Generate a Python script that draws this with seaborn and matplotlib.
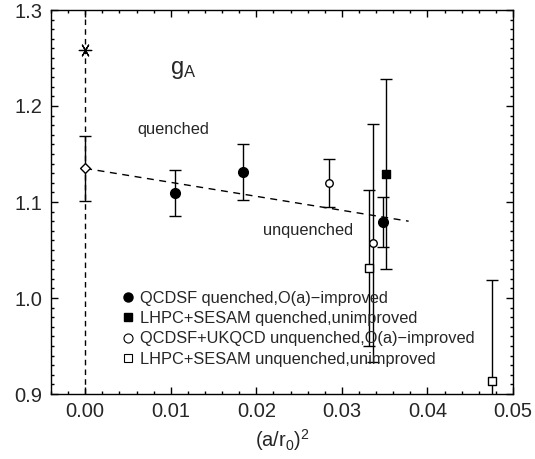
import numpy as np
import pandas as pd
import matplotlib
matplotlib.use("Agg")
import matplotlib.pyplot as plt
from matplotlib.ticker import MultipleLocator, FormatStrFormatter
from matplotlib.lines import Line2D
import seaborn as sns

# ---- data ----
qcdsf_q_x = [0.01054, 0.0185, 0.03481]
qcdsf_q_y = [1.109, 1.131, 1.079]
qcdsf_q_e = [0.024, 0.029, 0.026]

lhpc_q_x = [0.03516]
lhpc_q_y = [1.1295]
lhpc_q_e = [0.099]

qcdsf_u_x = [0.02853, 0.0336]
qcdsf_u_y = [1.120, 1.057]
qcdsf_u_e = [0.025, 0.124]

lhpc_u_x = [0.0332, 0.0476]
lhpc_u_y = [1.031, 0.914]
lhpc_u_e = [0.081, 0.105]

chiral_x = [0.0]
chiral_y = [1.135]
chiral_e = [0.034]

expt_x = [0.0]
expt_y = [1.258]

fit_x = [0.0, 0.0378]
fit_y = [1.135, 1.080]

labels = ["QCDSF quenched,O(a)\u2212improved",
          "LHPC+SESAM quenched,unimproved",
          "QCDSF+UKQCD unquenched,O(a)\u2212improved",
          "LHPC+SESAM unquenched,unimproved"]

sns.set_theme(style="ticks")
plt.rcParams['font.family'] = ['Liberation Sans', 'DejaVu Sans']
plt.rcParams['mathtext.fontset'] = 'custom'
plt.rcParams['mathtext.rm'] = 'Liberation Sans'
plt.rcParams['mathtext.it'] = 'Liberation Sans'

fig = plt.figure(figsize=(5.35, 4.59), dpi=100)
ax = fig.add_axes([51/535, 1-394/459, 462/535, 384/459])

series = [
    (qcdsf_q_x, qcdsf_q_y, qcdsf_q_e, 'o', 'black', 'black', 7.0),
    (lhpc_q_x, lhpc_q_y, lhpc_q_e, 's', 'black', 'black', 6.0),
    (qcdsf_u_x, qcdsf_u_y, qcdsf_u_e, 'o', 'white', 'black', 5.4),
    (lhpc_u_x, lhpc_u_y, lhpc_u_e, 's', 'white', 'black', 5.4),
    (chiral_x, chiral_y, chiral_e, 'D', 'white', 'black', 5.0),
]

# dashed vertical line at zero and fit line
ax.axvline(0.0, color='black', lw=1.0, ls=(0, (4, 3)), zorder=1)
sns.lineplot(x=fit_x, y=fit_y, ax=ax, color='black', lw=1.0, zorder=1)
ax.lines[-1].set_linestyle((0, (5, 4)))

for xs, ys, es, m, fc, ec, ms in series:
    ax.errorbar(xs, ys, yerr=es, fmt='none', ecolor='black', elinewidth=1.0,
                capsize=4, capthick=1.0, zorder=2)
    df = pd.DataFrame({'x': xs, 'y': ys})
    sns.scatterplot(data=df, x='x', y='y', ax=ax, marker=m, s=ms**2,
                    color=fc, edgecolor=ec, linewidth=1.0, zorder=3)

sns.scatterplot(x=expt_x, y=expt_y, ax=ax, marker=(6, 2, 30), s=80,
                color='black', linewidth=0.9, zorder=3)

ax.set_xlim(-0.004, 0.05)
ax.set_ylim(0.9, 1.3)
ax.xaxis.set_major_locator(MultipleLocator(0.01))
ax.xaxis.set_minor_locator(MultipleLocator(0.002))
ax.yaxis.set_major_locator(MultipleLocator(0.1))
ax.yaxis.set_minor_locator(MultipleLocator(0.01))
ax.xaxis.set_major_formatter(FormatStrFormatter('%.2f'))
ax.yaxis.set_major_formatter(FormatStrFormatter('%.1f'))
ax.tick_params(which='both', direction='in', top=True, right=True,
               labelsize=14.5, color='black', width=1.0)
ax.tick_params(which='major', length=5, pad=6)
ax.tick_params(which='minor', length=2.5)
for s in ax.spines.values():
    s.set_linewidth(1.0)
    s.set_color('black')

ax.set_xlabel(r'$\mathregular{(a/r_0)^2}$', fontsize=14.5, labelpad=4)
ax.set_ylabel('')

ax.text(0.0114, 1.238, r'$\mathregular{g_A}$', fontsize=17, ha='center', va='center')
ax.text(0.01034, 1.1757, 'quenched', fontsize=11.8, ha='center', va='center')
ax.text(0.0261, 1.0708, 'unquenched', fontsize=11.8, ha='center', va='center')

handles = [
    Line2D([], [], ls='none', marker='o', mfc='black', mec='black', ms=6.5),
    Line2D([], [], ls='none', marker='s', mfc='black', mec='black', ms=6.0),
    Line2D([], [], ls='none', marker='o', mfc='white', mec='black', ms=6.5, mew=0.8),
    Line2D([], [], ls='none', marker='s', mfc='white', mec='black', ms=6.0, mew=0.8),
]
leg = ax.legend(handles, labels, loc='upper left', bbox_to_anchor=(0.153, 0.2695),
                frameon=False, fontsize=11.8, handlelength=0.8, handletextpad=0.3,
                borderpad=0, borderaxespad=0, labelspacing=0.33)

fig.savefig('out.png', dpi=100)
